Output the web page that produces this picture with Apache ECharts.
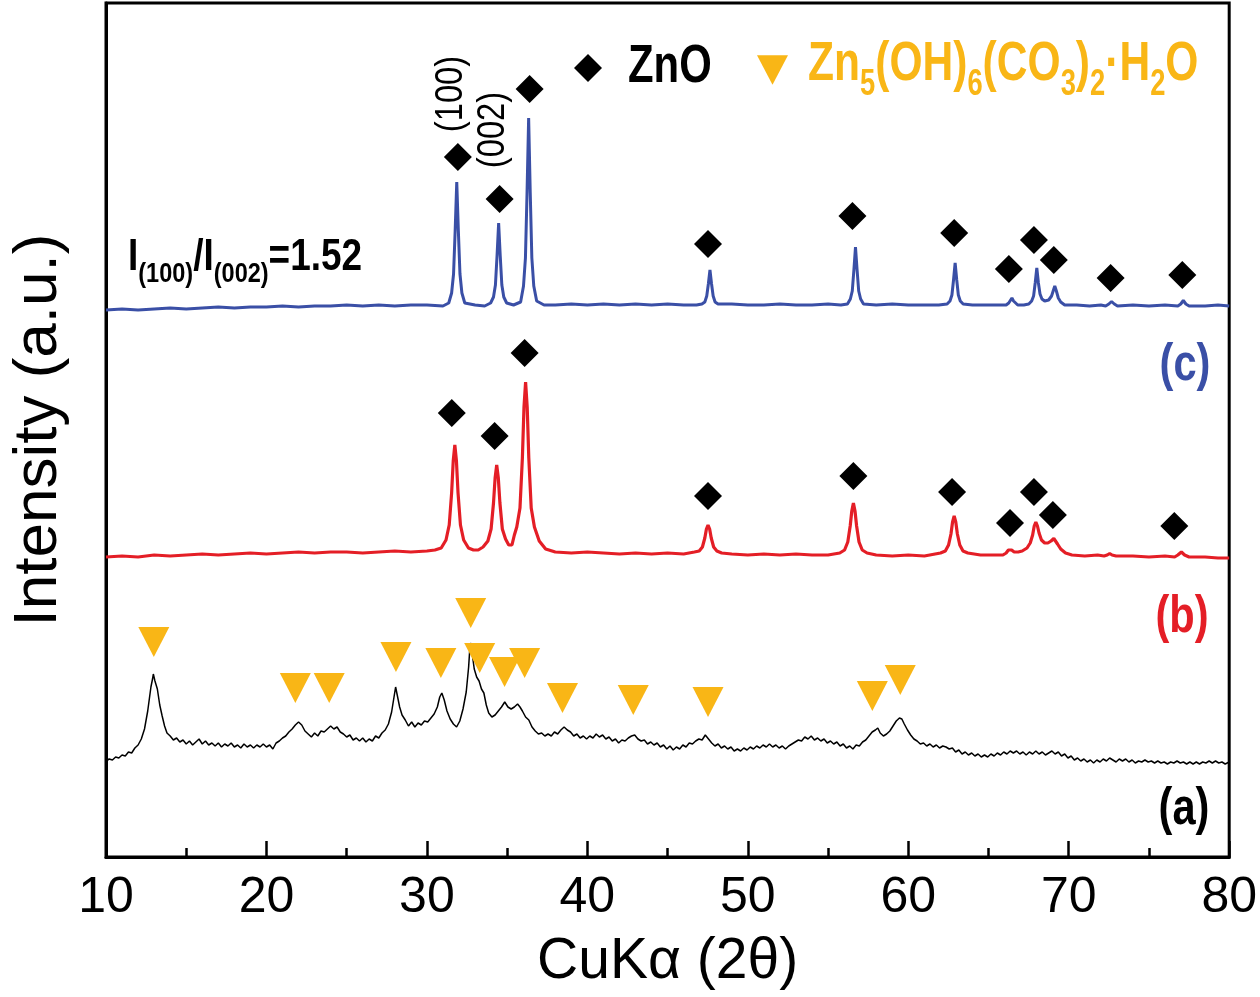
<!DOCTYPE html>
<html>
<head>
<meta charset="utf-8">
<script src="https://cdn.jsdelivr.net/npm/echarts@6/dist/echarts.min.js"></script>
<style>
html,body{margin:0;padding:0;background:#fff;}
#chart{width:1260px;height:997px;}
</style>
</head>
<body>
<div id="chart"></div>
<script>
// ---- x axis ticks ----
const xTicks = [10, 20, 30, 40, 50, 60, 70, 80];

// ---- curve (a): as-prepared precursor, black ----
const twoThetaA = [10.0,10.2,10.4,10.6,10.8,11.0,11.2,11.4,11.6,11.8,12.0,12.2,12.4,12.6,12.8,12.9,12.95,13.05,13.2,13.35,13.5,13.65,13.8,14.0,14.2,14.4,14.6,14.8,15.0,15.2,15.4,15.6,15.8,16.0,16.2,16.4,16.6,16.8,17.0,17.2,17.4,17.6,17.8,18.0,18.2,18.4,18.6,18.8,19.0,19.2,19.4,19.6,19.8,20.0,20.2,20.4,20.6,20.8,21.0,21.2,21.4,21.6,21.8,22.0,22.2,22.4,22.6,22.8,23.0,23.2,23.4,23.6,23.8,24.0,24.2,24.4,24.6,24.8,25.0,25.2,25.4,25.6,25.8,26.0,26.2,26.4,26.6,26.8,27.0,27.2,27.4,27.6,27.8,27.95,28.05,28.15,28.3,28.45,28.65,28.85,29.05,29.25,29.45,29.65,29.85,30.05,30.25,30.45,30.65,30.8,30.93,31.08,31.25,31.45,31.65,31.85,32.05,32.25,32.45,32.6,32.68,32.75,32.85,32.95,33.1,33.25,33.4,33.55,33.7,33.85,34.05,34.25,34.45,34.65,34.85,35.05,35.25,35.45,35.65,35.8,35.95,36.15,36.35,36.55,36.75,36.95,37.15,37.35,37.55,37.75,37.95,38.15,38.35,38.55,38.75,38.95,39.15,39.35,39.55,39.75,39.95,40.15,40.35,40.55,40.75,40.95,41.15,41.35,41.55,41.75,41.95,42.15,42.35,42.55,42.75,42.95,43.15,43.35,43.55,43.75,43.95,44.15,44.35,44.55,44.75,44.95,45.15,45.35,45.55,45.75,45.95,46.15,46.35,46.55,46.75,46.95,47.15,47.35,47.55,47.75,47.95,48.15,48.35,48.55,48.75,48.95,49.15,49.35,49.55,49.75,49.95,50.15,50.35,50.55,50.75,50.95,51.15,51.35,51.55,51.75,51.95,52.15,52.35,52.55,52.75,52.95,53.15,53.35,53.55,53.75,53.95,54.15,54.35,54.55,54.75,54.95,55.15,55.35,55.55,55.75,55.95,56.15,56.35,56.55,56.75,56.95,57.15,57.35,57.55,57.75,57.95,58.1,58.25,58.45,58.65,58.85,59.05,59.25,59.45,59.6,59.75,59.95,60.15,60.35,60.55,60.75,60.95,61.15,61.35,61.55,61.75,61.95,62.15,62.35,62.55,62.75,62.95,63.15,63.35,63.55,63.75,63.95,64.15,64.35,64.55,64.75,64.95,65.15,65.35,65.55,65.75,65.95,66.15,66.35,66.55,66.75,66.95,67.15,67.35,67.55,67.75,67.95,68.15,68.35,68.55,68.75,68.95,69.15,69.35,69.55,69.75,69.95,70.15,70.35,70.55,70.75,70.95,71.15,71.35,71.55,71.75,71.95,72.15,72.35,72.55,72.75,72.95,73.15,73.35,73.55,73.75,73.95,74.15,74.35,74.55,74.75,74.95,75.15,75.35,75.55,75.75,75.95,76.15,76.35,76.55,76.75,76.95,77.15,77.35,77.55,77.75,77.95,78.15,78.35,78.55,78.75,78.95,79.15,79.35,79.55,79.75,80.0];
const intensityA = [96,98,97,100,99,102,101,105,104,109,112,118,128,146,170,178,183,176,168,152,141,131,124,121,117,119,115,117,113,116,112,115,118,113,116,112,114,111,114,110,113,111,114,110,112,109,113,110,112,109,112,110,113,110,112,108,114,116,119,121,125,128,132,135,132,126,123,120,124,121,126,125,128,131,128,130,125,123,120,122,117,119,116,119,115,118,116,121,119,124,127,133,145,160,170,162,150,142,137,131,135,130,134,132,136,135,139,143,150,160,164,157,146,138,133,130,136,148,165,190,210,214,200,188,180,176,168,164,152,144,140,142,146,150,155,150,148,150,153,150,146,140,137,130,126,123,124,121,123,121,125,123,127,130,127,125,121,123,119,121,118,121,119,123,120,122,118,120,116,118,114,117,116,119,121,122,118,116,117,113,115,112,114,110,112,108,111,107,110,108,112,110,114,113,116,118,117,122,118,114,111,113,109,111,108,110,106,108,106,109,107,110,108,111,109,112,110,113,110,112,109,111,108,111,113,115,117,116,120,118,121,117,119,116,118,114,116,113,115,111,113,109,111,108,112,111,115,117,121,125,127,129,124,121,123,126,131,136,139,138,133,127,122,118,116,113,114,111,113,110,112,109,111,110,108,109,105,107,103,105,102,104,101,103,100,102,100,103,101,104,102,105,103,106,104,106,103,105,102,105,103,106,103,105,102,104,106,103,105,101,103,99,101,97,99,96,98,95,97,94,97,95,98,96,99,97,95,98,96,98,95,97,94,96,95,97,95,96,94,96,94,95,93,95,94,96,94,95,93,95,93,95,93,95,94,96,94,96,94,95,93,95];

// ---- curve (b): red ----
const twoThetaB = [10.0,11.0,12.0,13.0,14.0,15.0,16.0,17.0,18.0,19.0,20.0,21.0,22.0,23.0,24.0,25.0,26.0,27.0,28.0,29.0,30.0,30.5,30.89,31.19,31.39,31.54,31.64,31.74,31.84,31.94,32.09,32.29,32.59,32.9,33.2,33.5,33.8,34.0,34.15,34.25,34.35,34.45,34.55,34.7,34.9,35.1,35.3,35.45,35.6,35.8,35.95,36.05,36.15,36.25,36.35,36.5,36.7,37.0,37.4,38.0,39.0,40.0,41.0,42.0,43.0,44.0,45.0,46.0,46.67,46.97,47.17,47.32,47.42,47.52,47.62,47.72,47.87,48.07,48.37,49.0,50.0,51.0,52.0,53.0,54.0,55.0,55.73,56.03,56.23,56.38,56.48,56.58,56.68,56.78,56.93,57.13,57.43,58.0,59.0,60.0,61.0,62.01,62.31,62.51,62.66,62.76,62.86,62.96,63.06,63.21,63.41,63.71,64.5,65.3,65.9,66.1,66.24,66.34,66.44,66.6,66.85,67.1,67.4,67.6,67.75,67.85,67.95,68.05,68.15,68.3,68.5,68.7,68.9,69.0,69.07,69.15,69.3,69.5,69.8,70.2,71.0,71.8,72.2,72.4,72.55,72.7,72.95,74.0,75.0,76.0,76.6,76.8,77.02,77.22,77.5,78.5,79.3,80.0];
const intensityB = [300,301,300,302,301,302,303,302,303,304,303,304,305,304,305,305,304,305,306,305,306,307,309,317,332,364,396,412,396,364,332,317,309,307,307,310,316,328,354,379,392,379,354,328,318,312,312,322,330,349,399,450,475,450,399,349,330,316,308,305,304,305,304,303,304,303,304,303,305,306,310,319,328,332,328,319,310,306,304,303,302,303,302,303,302,302,304,307,315,331,346,354,346,331,315,307,304,302,301,302,301,304,306,312,323,335,341,335,323,312,306,304,302,302,302,304,307,309,307,305,305,306,309,314,322,331,335,331,324,317,314,314,316,318,318.5,317,313,308,304,302,301,302,301,302,303.5,302,301,301,300,301,300,302,305,302,300,300,299,299];

// ---- curve (c): blue ----
const twoThetaC = [10.0,11.0,12.0,13.0,14.0,15.0,16.0,17.0,18.0,19.0,20.0,21.0,22.0,23.0,24.0,25.0,26.0,27.0,28.0,29.0,30.0,31.0,31.36,31.54,31.66,31.76,31.86,31.96,32.06,32.18,32.36,33.0,33.6,33.97,34.15,34.27,34.37,34.47,34.57,34.67,34.79,34.97,35.4,35.84,36.02,36.14,36.24,36.34,36.44,36.54,36.66,36.84,37.3,38.0,39.0,40.0,41.0,42.0,43.0,44.0,45.0,46.0,46.8,47.14,47.32,47.44,47.54,47.64,47.74,47.84,47.96,48.14,49.0,50.0,51.0,52.0,53.0,54.0,55.0,55.8,56.21,56.39,56.51,56.61,56.71,56.81,56.91,57.03,57.21,58.0,59.0,60.0,61.0,61.9,62.42,62.6,62.72,62.82,62.92,63.02,63.12,63.24,63.42,64.0,65.0,65.7,66.1,66.26,66.36,66.46,66.56,66.66,66.82,67.2,67.51,67.69,67.81,67.91,68.01,68.11,68.21,68.33,68.5,68.75,68.93,69.03,69.13,69.23,69.35,69.5,69.75,70.5,71.3,72.0,72.3,72.5,72.67,72.84,73.04,74.0,75.0,76.0,76.8,76.98,77.14,77.3,77.5,78.5,79.3,80.0];
const intensityC = [547,548,547,548,549,548,549,550,549,550,550,551,550,551,551,552,551,552,551,552,552,551,554,564,583,626,675,626,583,564,554,552,551,554,560,572,601,634,601,572,560,554,552,555,571,599,664,739,664,599,571,556,552,552,553,552,553,552,553,552,553,552,552,553,555,561,573,587,573,561,555,553,553,552,552,553,552,552,553,552,553,558,566,587,610,587,566,558,553,552,553,552,552,552,553,556,562,577,594,577,562,556,553,552,552,552,552,554,556,559,556,554,552,552,553,556,561,574,589,574,563,558,556,557,561,566,571,566,559,555,552,552,551,552,551,553,555.5,553,551,552,551,552,551,553,556.5,553,551,551,552,551];

// ---- phase markers ----
const znoMarkC2Theta = [31.93, 34.53, 36.40, 47.52, 56.52, 62.86, 66.27, 67.83, 69.07, 72.61, 77.08];
const znoMarkCY      = [700, 658, 768, 613, 641, 624, 588, 617, 597, 579, 582];
const znoMarkB2Theta = [31.55, 34.22, 36.09, 47.52, 56.58, 62.73, 66.34, 67.83, 69.01, 76.58];
const znoMarkBY      = [444, 421, 504, 361, 381, 365, 334, 365, 342, 331];
const hzMarkA2Theta  = [12.98, 21.80, 23.91, 28.07, 30.87, 32.73, 33.29, 34.84, 36.09, 38.45, 42.86, 47.52, 57.76, 59.50];
const hzMarkAY       = [215, 169, 169, 200, 194, 244, 199, 185, 194, 159, 157, 155, 161, 177];

// ---- texts ----
const seriesNames = ['(a)', '(b)', '(c)'];
const znoName = 'ZnO';
const hzName = 'Zn5(OH)6(CO3)2·H2O';

const BLUE = '#3A4FA6', RED = '#E41E26', BLACK = '#000000', ORANGE = '#F9B616';
const SANS = "'Liberation Sans', Arial, Helvetica, sans-serif";

const zip = (xs, ys) => xs.map((x, i) => [x, ys[i]]);

const chart = echarts.init(document.getElementById('chart'), null, {renderer: 'canvas'});

const legendBase = {
  show: true, orient: 'horizontal', padding: 0, selectedMode: false,
  formatter: function () { return ''; },
  textStyle: {fontSize: 10}
};

const option = {
  animation: false,
  backgroundColor: '#ffffff',
  grid: {left: 106, right: 27, top: 3, bottom: 140, show: true, borderColor: '#000', borderWidth: 3, backgroundColor: 'transparent'},
  xAxis: {
    type: 'value', min: xTicks[0], max: xTicks[xTicks.length - 1], interval: 10,
    name: 'CuKα (2θ)', nameLocation: 'middle', nameGap: 77,
    nameTextStyle: {fontSize: 57, color: '#000', fontFamily: SANS},
    axisLine: {show: true, lineStyle: {color: '#000', width: 3}},
    axisTick: {show: true, inside: true, length: 16, lineStyle: {color: '#000', width: 2.5}},
    minorTick: {show: true, splitNumber: 2, length: 9, lineStyle: {color: '#000', width: 2.5}},
    splitLine: {show: false}, minorSplitLine: {show: false},
    axisLabel: {fontSize: 50, color: '#000', margin: 16, fontFamily: SANS, showMinLabel: true, showMaxLabel: true}
  },
  yAxis: {
    type: 'value', min: 0, max: 854,
    name: 'Intensity (a.u.)', nameLocation: 'middle', nameGap: 36, nameRotate: 90,
    nameTextStyle: {fontSize: 62, color: '#000', fontFamily: SANS},
    axisLine: {show: true, lineStyle: {color: '#000', width: 3}},
    axisTick: {show: false}, axisLabel: {show: false}, splitLine: {show: false}
  },
  legend: [
    Object.assign({}, legendBase, {
      left: 574, top: 54, itemWidth: 28, itemHeight: 28,
      data: [{name: znoName, icon: 'diamond'}]
    }),
    Object.assign({}, legendBase, {
      left: 757, top: 55, itemWidth: 31, itemHeight: 30, symbolRotate: 0,
      data: [{name: hzName, icon: 'path://M0,0L20,0L10,19Z'}]
    })
  ],
  series: [
    {name: seriesNames[0], type: 'line', data: zip(twoThetaA, intensityA), showSymbol: false, symbol: 'none', silent: true,
     lineStyle: {color: BLACK, width: 1.5}, itemStyle: {color: BLACK}, z: 2},
    {name: seriesNames[1], type: 'line', data: zip(twoThetaB, intensityB), showSymbol: false, symbol: 'none', silent: true,
     lineStyle: {color: RED, width: 3.2}, itemStyle: {color: RED}, z: 2},
    {name: seriesNames[2], type: 'line', data: zip(twoThetaC, intensityC), showSymbol: false, symbol: 'none', silent: true,
     lineStyle: {color: BLUE, width: 3}, itemStyle: {color: BLUE}, z: 2},
    {name: znoName, type: 'scatter', data: zip(znoMarkC2Theta, znoMarkCY), symbol: 'diamond', symbolSize: 28,
     itemStyle: {color: BLACK, opacity: 1}, silent: true, z: 5},
    {name: znoName, type: 'scatter', data: zip(znoMarkB2Theta, znoMarkBY), symbol: 'diamond', symbolSize: 28,
     itemStyle: {color: BLACK, opacity: 1}, silent: true, z: 5},
    {name: hzName, type: 'scatter', data: zip(hzMarkA2Theta, hzMarkAY), symbol: 'triangle', symbolRotate: 180, symbolSize: [31, 30],
     itemStyle: {color: ORANGE, opacity: 1}, silent: true, z: 5}
  ],
  graphic: [
    // legend labels
    {type: 'text', x: 628, y: 67, scaleX: 0.79, silent: true,
     style: {text: znoName, align: 'left', verticalAlign: 'middle', fontSize: 53, fontWeight: 'bold', fontFamily: SANS, fill: BLACK}},
    {type: 'text', x: 808, y: 37, scaleX: 0.76, silent: true,
     style: {text: '{m|Zn}{s|5}{m|(OH)}{s|6}{m|(CO}{s|3}{m|)}{s|2}{m|·H}{s|2}{m|O}', align: 'left', verticalAlign: 'top',
       rich: {
         m: {fontSize: 56, fontWeight: 'bold', fontFamily: SANS, fill: ORANGE, padding: [0, 0, 10, 0], verticalAlign: 'bottom'},
         s: {fontSize: 36, fontWeight: 'bold', fontFamily: SANS, fill: ORANGE, verticalAlign: 'bottom'}
       }}},
    // intensity ratio
    {type: 'text', x: 128, y: 236, scaleX: 0.84, silent: true,
     style: {text: '{m|I}{s|(100)}{m|/I}{s|(002)}{m|=1.52}', align: 'left', verticalAlign: 'top',
       rich: {
         m: {fontSize: 44, fontWeight: 'bold', fontFamily: SANS, fill: '#000', padding: [0, 0, 8, 0], verticalAlign: 'bottom'},
         s: {fontSize: 28, fontWeight: 'bold', fontFamily: SANS, fill: '#000', verticalAlign: 'bottom'}
       }}},
    // Miller indices
    {type: 'text', x: 452, y: 94, rotation: Math.PI / 2, scaleX: 0.86, silent: true,
     style: {text: '(100)', align: 'center', verticalAlign: 'middle', fontSize: 38, fontFamily: SANS, fill: '#000'}},
    {type: 'text', x: 494, y: 130, rotation: Math.PI / 2, scaleX: 0.86, silent: true,
     style: {text: '(002)', align: 'center', verticalAlign: 'middle', fontSize: 38, fontFamily: SANS, fill: '#000'}},
    // curve labels
    {type: 'text', x: 1185, y: 366, scaleX: 0.8, silent: true,
     style: {text: seriesNames[2], align: 'center', verticalAlign: 'middle', fontSize: 52, fontWeight: 'bold', fontFamily: SANS, fill: BLUE}},
    {type: 'text', x: 1182, y: 618, scaleX: 0.8, silent: true,
     style: {text: seriesNames[1], align: 'center', verticalAlign: 'middle', fontSize: 52, fontWeight: 'bold', fontFamily: SANS, fill: RED}},
    {type: 'text', x: 1184, y: 810, scaleX: 0.8, silent: true,
     style: {text: seriesNames[0], align: 'center', verticalAlign: 'middle', fontSize: 52, fontWeight: 'bold', fontFamily: SANS, fill: BLACK}}
  ]
};
chart.setOption(option);
</script>
</body>
</html>
